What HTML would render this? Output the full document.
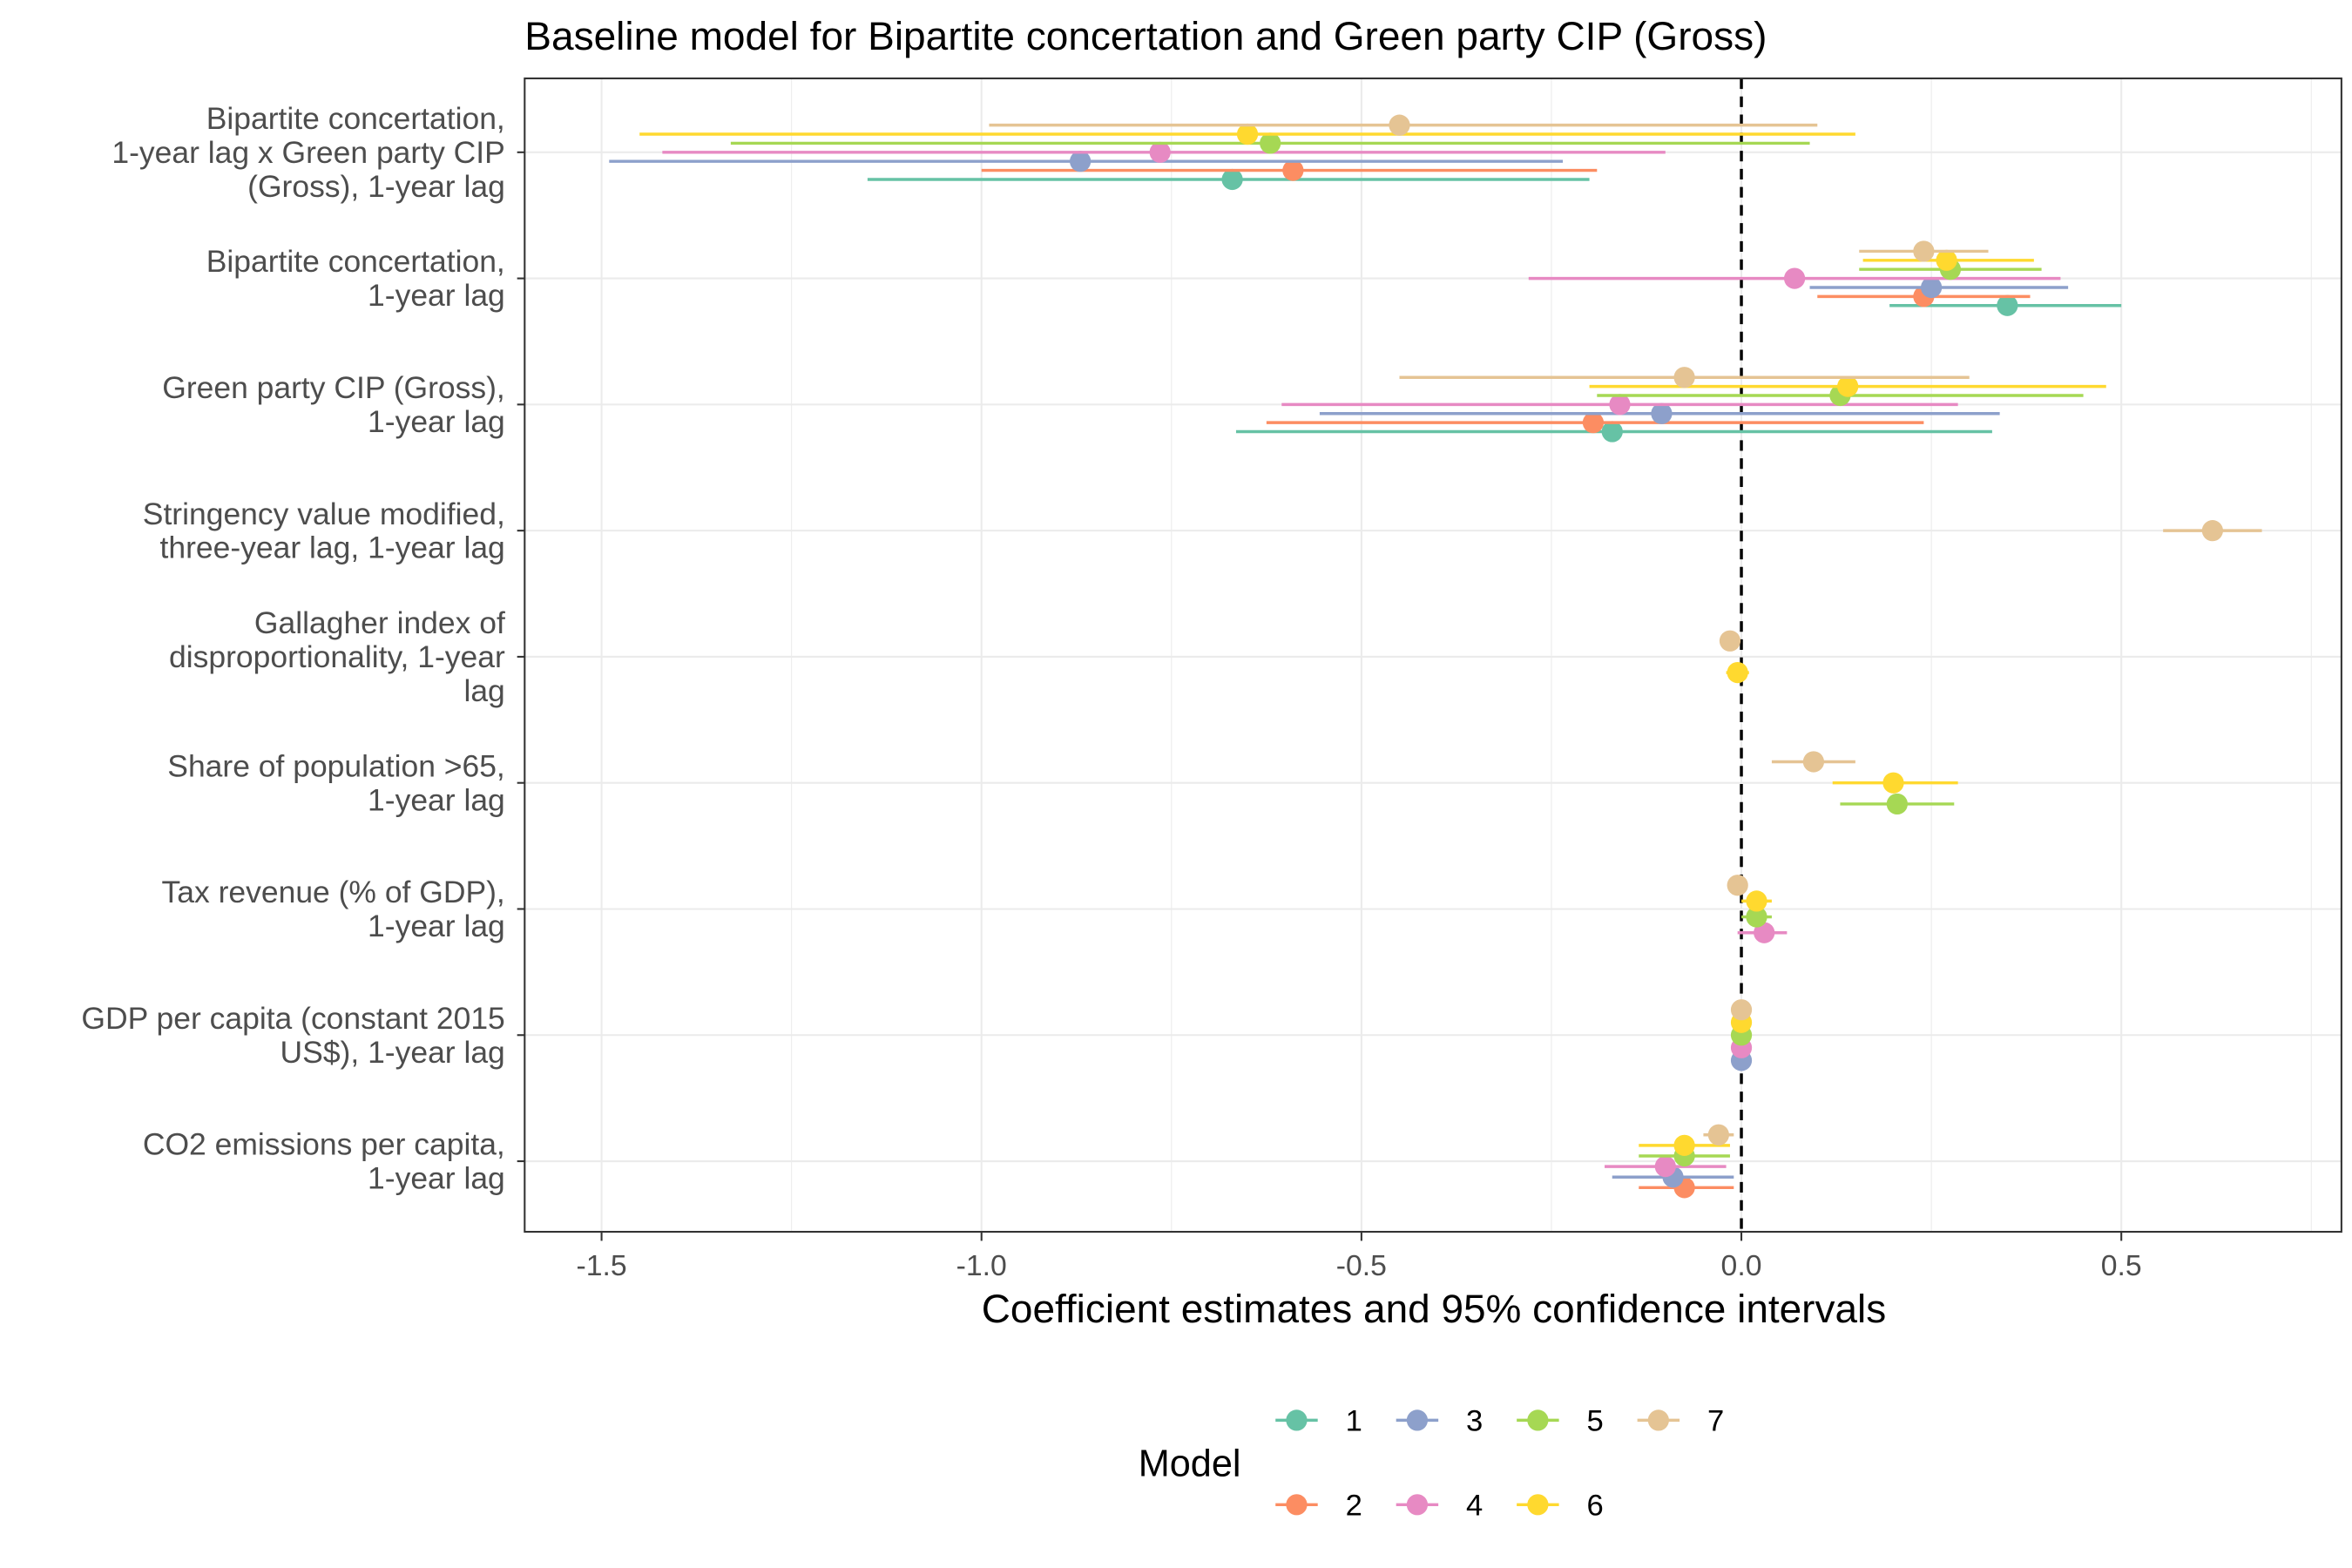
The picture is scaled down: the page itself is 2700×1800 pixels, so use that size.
<!DOCTYPE html>
<html><head><meta charset="utf-8"><style>
html,body{margin:0;padding:0;background:#fff;}
svg{display:block;font-family:"Liberation Sans",Arial,sans-serif;}
</style></head><body>
<svg id="chart" width="2700" height="1800" viewBox="0 0 1560 1040" xmlns="http://www.w3.org/2000/svg">
<rect width="1560" height="1040" fill="#fff"/>
<text x="348" y="33" font-size="26" textLength="824" lengthAdjust="spacingAndGlyphs" fill="#000">Baseline model for Bipartite concertation and Green party CIP (Gross)</text>
<g id="grid"></g>
<g id="marks"></g>
<rect x="348" y="52" width="1205" height="765" fill="none" stroke="#333" stroke-width="1.2"/>
<g id="axes"></g>
<text x="951" y="877" font-size="26" text-anchor="middle" textLength="600" lengthAdjust="spacingAndGlyphs" fill="#000">Coefficient estimates and 95% confidence intervals</text>
<g id="legend"></g>
</svg>
<script>
const categories = [
 ["Bipartite concertation,","1-year lag x Green party CIP","(Gross), 1-year lag"],
 ["Bipartite concertation,","1-year lag"],
 ["Green party CIP (Gross),","1-year lag"],
 ["Stringency value modified,","three-year lag, 1-year lag"],
 ["Gallagher index of","disproportionality, 1-year","lag"],
 ["Share of population >65,","1-year lag"],
 ["Tax revenue (% of GDP),","1-year lag"],
 ["GDP per capita (constant 2015","US$), 1-year lag"],
 ["CO2 emissions per capita,","1-year lag"]
];
const models = [1,2,3,4,5,6,7];
// estimates[row] = list of [model, estimate, low, high]
const estimates = [
 [[1,-0.67,-1.15,-0.2],[2,-0.59,-1.0,-0.19],[3,-0.87,-1.49,-0.235],[4,-0.765,-1.42,-0.1],[5,-0.62,-1.33,0.09],[6,-0.65,-1.45,0.15],[7,-0.45,-0.99,0.1]],
 [[1,0.35,0.195,0.5],[2,0.24,0.1,0.38],[3,0.25,0.09,0.43],[4,0.07,-0.28,0.42],[5,0.275,0.155,0.395],[6,0.27,0.16,0.385],[7,0.24,0.155,0.325]],
 [[1,-0.17,-0.665,0.33],[2,-0.195,-0.625,0.24],[3,-0.105,-0.555,0.34],[4,-0.16,-0.605,0.285],[5,0.13,-0.19,0.45],[6,0.14,-0.2,0.48],[7,-0.075,-0.45,0.3]],
 [[7,0.62,0.555,0.685]],
 [[6,-0.005,-0.02,0.01],[7,-0.015,-0.02,-0.01]],
 [[5,0.205,0.13,0.28],[6,0.2,0.12,0.285],[7,0.095,0.04,0.15]],
 [[4,0.03,-0.005,0.06],[5,0.02,0.0,0.04],[6,0.02,0.0,0.04],[7,-0.005,-0.01,0.0]],
 [[3,0,-0.003,0.003],[4,0,-0.003,0.003],[5,0,-0.003,0.003],[6,0,-0.003,0.003],[7,0,-0.003,0.003]],
 [[2,-0.075,-0.135,-0.01],[3,-0.09,-0.17,-0.01],[4,-0.1,-0.18,-0.02],[5,-0.075,-0.135,-0.015],[6,-0.075,-0.135,-0.015],[7,-0.03,-0.05,-0.01]]
];
const xTicks = [-1.5,-1.0,-0.5,0.0,0.5];
const xTickLabels = ["-1.5","-1.0","-0.5","0.0","0.5"];
const xMinor = [-1.25,-0.75,-0.25,0.25,0.75];
const colors = {1:"#66c2a5",2:"#fc8d62",3:"#8da0cb",4:"#e78ac3",5:"#a6d854",6:"#ffd92f",7:"#e5c494"};

const NS="http://www.w3.org/2000/svg";
function xs(v){return 1155+504*v;}
function ys(i){return 101+i*83.65;}
function mk(tag,attrs,parent){const e=document.createElementNS(NS,tag);for(const k in attrs)e.setAttribute(k,attrs[k]);parent.appendChild(e);return e;}
const grid=document.getElementById('grid'),marks=document.getElementById('marks'),axes=document.getElementById('axes'),legend=document.getElementById('legend');
xMinor.forEach(v=>{const l=mk('line',{x1:xs(v),x2:xs(v),y1:52,y2:817,stroke:'#ebebeb','stroke-width':0.6},grid);

});
xTicks.forEach((v,i)=>{const l=mk('line',{x1:xs(v),x2:xs(v),y1:52,y2:817,stroke:'#ebebeb','stroke-width':1.2},grid);


const t=mk('line',{x1:xs(v),x2:xs(v),y1:817,y2:823,stroke:'#333','stroke-width':1.2},axes);


const tx=mk('text',{x:xs(v),y:846,'font-size':19.5,'text-anchor':'middle',fill:'#4d4d4d'},axes);
tx.textContent=xTickLabels[i];

});
categories.forEach((lines,i)=>{const y=ys(i);
const g=mk('line',{x1:348,x2:1553,y1:y,y2:y,stroke:'#ebebeb','stroke-width':1.2},grid);


const t=mk('line',{x1:343,x2:348,y1:y,y2:y,stroke:'#333','stroke-width':1.2},axes);


const n=lines.length,lh=22.5,y0=y-(n-1)*lh/2+7;
const tx=mk('text',{'font-size':20.5,'text-anchor':'end',fill:'#4d4d4d'},axes);


lines.forEach((s,j)=>{const ts=mk('tspan',{x:335,y:y0+j*lh},tx);ts.textContent=s;});});
// zero line
const z=mk('line',{x1:xs(0),x2:xs(0),y1:52,y2:817,stroke:'#000','stroke-width':2,'stroke-dasharray':'7,5'},marks);


const W=42;
estimates.forEach((rows,i)=>{const n=rows.length;
rows.forEach((r,j)=>{const [m,est,lo,hi]=r;
const yy=ys(i)-(j-(n-1)/2)*W/n;
const l=mk('line',{x1:xs(lo),x2:xs(hi),y1:yy,y2:yy,stroke:colors[m],'stroke-width':2},marks);


const c=mk('circle',{cx:xs(est),cy:yy,r:7,fill:colors[m]},marks);

});});
// legend
const lt=mk('text',{x:755,y:979,'font-size':25,fill:'#000'},legend);
lt.textContent='Model';


models.forEach((m,k)=>{const col=Math.floor(k/2),row=k%2;
const x=860+col*80,y=row?998:942;
const g=mk('g',{},legend);


mk('line',{x1:x-14,x2:x+14,y1:y,y2:y,stroke:colors[m],'stroke-width':2},g);
mk('circle',{cx:x,cy:y,r:7,fill:colors[m]},g);
const t=mk('text',{x:x+38,y:y+7,'font-size':20,'text-anchor':'middle',fill:'#000'},g);t.textContent=m;});
</script>
</body></html>
